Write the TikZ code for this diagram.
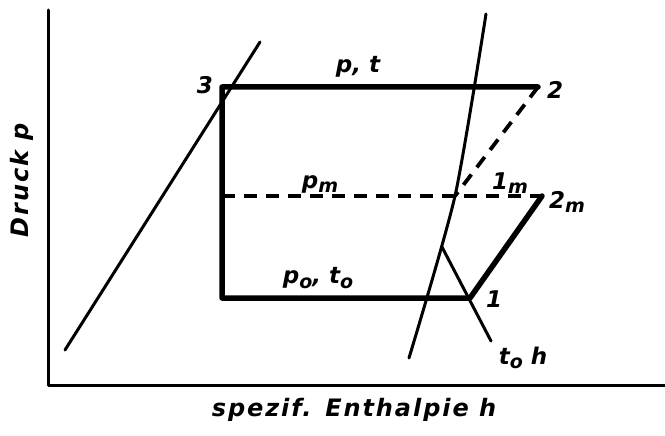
\documentclass[tikz,border=0pt]{standalone}
\usepackage{fontspec}
\setsansfont{DejaVu Sans}
\usepackage{tikz}
\usetikzlibrary{calc}
\newcommand{\ix}[1]{\raisebox{-0.35ex}{\fontsize{19}{19}\selectfont #1}}

\begin{document}
\begin{tikzpicture}[x=1pt,y=-1pt,line cap=round,line join=round,
thinline/.style={line width=3pt},
thickline/.style={line width=5.5pt},
dashline/.style={line width=3.8pt,line cap=butt,dash pattern=on 13pt off 9pt},
lbl/.style={font=\sffamily\bfseries\itshape\fontsize{23}{23}\selectfont,inner sep=0pt},
axlbl/.style={lbl,font=\sffamily\bfseries\itshape\fontsize{24}{24}\selectfont\addfontfeature{LetterSpace=8}}]
\useasboundingbox (0,0) rectangle (665,436);
% axes
\coordinate (Ytop) at (48,10);
\coordinate (O) at (48,385);
\coordinate (Xend) at (667,385);
\draw[thinline] (Ytop)--(O)--(Xend);
% state points
\coordinate (P3) at (222,87);
\coordinate (P2) at (538,87);
\coordinate (A) at (222,196);
\coordinate (P1m) at (455,196);
\coordinate (P2m) at (542,196);
\coordinate (B) at (222,298);
\coordinate (P1) at (470,298);
% boiling line and dew line
\coordinate (L1) at (65,350);
\coordinate (L2) at (260,42);
\coordinate (S1) at (486,14);
\coordinate (S2) at (409,358);
\coordinate (K) at (442,247);
\coordinate (T) at (491,341);
\draw[thinline] (L1)--(L2);
\draw[thinline] plot[smooth,tension=0.4] coordinates {(S1) (P1m) (S2)};
\draw[thinline] (K)--(T);
% cycle
\draw[thickline] (P2)--(P3)--(B)--(P1)--(P2m);
\draw[dashline] (A)--(P2m);
\draw[dashline] (P2)--(P1m);
% labels
\node[lbl] (n3) at (205,85) {3};
\node[lbl] (n2) at (555,90) {2};
\node[lbl] (n1) at (494,299) {1};
\node[lbl] (n1m) at (510,183) {1\ix{m}};
\node[lbl] (n2m) at (567,202) {2\ix{m}};
\node[lbl] (npt) at (358,67) {p, t};
\node[lbl] (npm) at (320,184) {p\ix{m}};
\node[lbl] (npo) at (318,278) {p\ix{o}, t\ix{o}};
\node[lbl] (nth) at (523,358) {t\ix{o} h};
\node[axlbl,rotate=90] (ny) at (22,180) {Druck p};
\node[axlbl] (nx) at (354,410) {spezif. Enthalpie h};
\end{tikzpicture}
\end{document}
